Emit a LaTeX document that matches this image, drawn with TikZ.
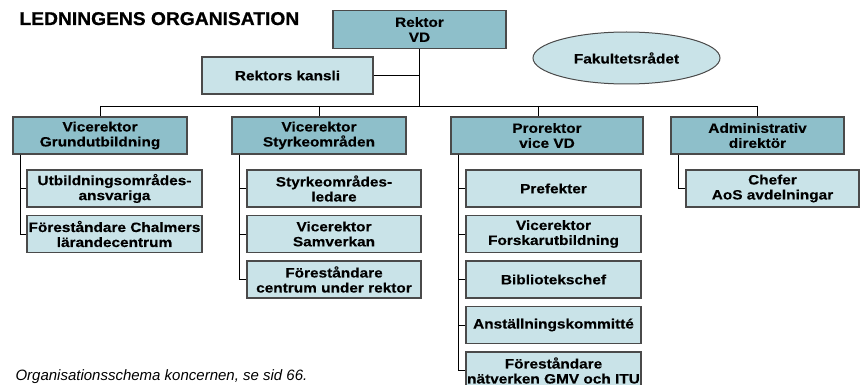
\documentclass[tikz,border=0pt]{standalone}
\usepackage{fontspec}
\setmainfont{Liberation Sans}
\newfontfamily\boxfont[FakeStretch=1.14,FakeBold=0.3]{Liberation Sans}
\newfontfamily\titlefont[FakeStretch=1.04,FakeBold=0.8]{Liberation Sans}
\usetikzlibrary{positioning,shapes.geometric}
\definecolor{headfill}{HTML}{8EBFCA}
\definecolor{subfill}{HTML}{C9E3E8}
\definecolor{framegray}{HTML}{4A4A4A}

\begin{document}
\begin{tikzpicture}[x=1pt,y=-1pt,node distance=45.5pt,on grid,
   box/.style={draw=framegray,line width=1.1pt,minimum height=37pt,inner sep=0pt,
     align=center,font=\boxfont\bfseries\fontsize{13.5}{15}\selectfont},
   head/.style={box,fill=headfill},
   sub/.style={box,fill=subfill,minimum width=175pt},
   link/.style={draw=black,line width=0.9pt}]
   \useasboundingbox (0,0) rectangle (863,385);

   \node[anchor=base west,font=\titlefont\bfseries\fontsize{18.5}{21}\selectfont] (title) at (16,25) {LEDNINGENS ORGANISATION};
   \node[anchor=base west,font=\itshape\fontsize{15}{17}\selectfont] (caption) at (12,380) {Organisationsschema koncernen, se sid 66.};

   \node[head,minimum width=173pt,minimum height=38pt] (rektor) at (419.5,29.5) {Rektor\\VD};
   \node[sub,minimum width=171pt] (kansli) at (287.5,75.5) {Rektors kansli};
   \node[ellipse,draw=framegray,line width=1pt,fill=subfill,minimum width=187pt,minimum height=52pt,
     font=\boxfont\bfseries\fontsize{13.5}{15}\selectfont] (fak) at (626.5,58) {Fakultetsrådet};

   % ledningsgrupp
   \node[head,minimum width=174pt] (vgu) at (100,135.5) {Vicerektor\\Grundutbildning};
   \node[head,minimum width=174pt] (vso) at (319,135.5) {Vicerektor\\Styrkeområden};
   \node[head,minimum width=192pt] (pro) at (547,135.5) {Prorektor\\vice VD};
   \node[head,minimum width=173pt] (adm) at (757.5,135.5) {Administrativ\\direktör};

   % under vicerektor grundutbildning
   \node[sub] (vgu1) at (114.5,188.5) {Utbildningsområdes-\\ansvariga};
   \node[sub] (vgu2) [below=of vgu1] {Föreståndare Chalmers\\lärandecentrum};
   % under vicerektor styrkeområden
   \node[sub,minimum width=174pt] (vso1) at (334,188.5) {Styrkeområdes-\\ledare};
   \node[sub,minimum width=174pt] (vso2) [below=of vso1] {Vicerektor\\Samverkan};
   \node[sub,minimum width=174pt] (vso3) [below=of vso2] {Föreståndare\\centrum under rektor};
   % under prorektor
   \node[sub] (pro1) at (553.5,188.5) {Prefekter};
   \node[sub] (pro2) [below=of pro1] {Vicerektor\\Forskarutbildning};
   \node[sub] (pro3) [below=of pro2] {Bibliotekschef};
   \node[sub] (pro4) [below=of pro3] {Anställningskommitté};
   \node[sub] (pro5) [below=of pro4] {Föreståndare\\nätverken GMV och ITU};
   % under administrativ direktör
   \node[sub,minimum width=173pt] (adm1) at (772.5,188.5) {Chefer\\AoS avdelningar};

   \coordinate (bus) at (0,106);
   \draw[link] (rektor.south) -- (rektor.south |- bus);
   \draw[link] (kansli.east) -- (kansli.east -| rektor.south);
   \draw[link] (vgu.north |- bus) -- (adm.north |- bus);
   \foreach \h in {vgu,vso,adm}
     \draw[link] (\h.north |- bus) -- (\h.north);
   \draw[link] ([xshift=-9pt]pro.north |- bus) -- ([xshift=-9pt]pro.north);

   \foreach \p/\k in {vgu/vgu1,vgu/vgu2,vso/vso1,vso/vso2,vso/vso3,
                      pro/pro1,pro/pro2,pro/pro3,pro/pro4,pro/pro5,adm/adm1}
     \draw[link] ([xshift=8pt]\p.south west) |- (\k.west);
\end{tikzpicture}
\end{document}
